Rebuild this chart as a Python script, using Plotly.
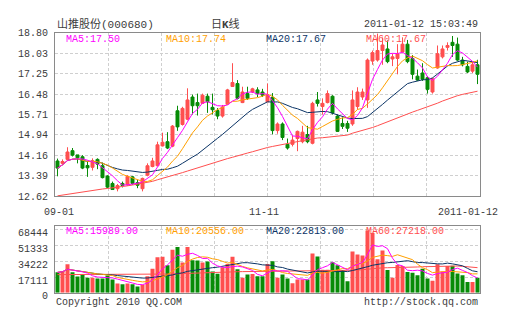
import pandas as pd
import plotly.graph_objects as go

# ---- daily quotes, 2010-09-01 .. 2011-01-12 (85 sessions) ----
open_ = [
    13.95, 13.86, 14.01, 14.34, 14.18, 14.11, 13.78, 13.71, 14.01, 13.77,
    13.38, 13.10, 12.90, 13.10, 13.05, 13.35, 13.13, 12.90, 13.41, 13.74,
    13.77, 14.52, 14.68, 14.51, 15.85, 15.33, 15.53, 16.37, 16.16, 16.13,
    16.40, 15.98, 15.86, 15.65, 16.10, 16.77, 16.88, 16.16, 16.50, 16.56,
    16.64, 16.56, 16.19, 16.36, 15.10, 15.35, 14.58, 14.58, 14.80, 14.68,
    14.95, 14.62, 16.26, 16.01, 16.16, 16.40, 15.65, 15.37, 15.37, 15.35,
    16.01, 16.37, 16.26, 17.73, 17.77, 18.13, 18.19, 17.81, 17.83, 18.07,
    18.37, 17.83, 17.16, 17.28, 17.10, 16.56, 17.47, 17.89, 18.25, 18.44,
    18.37, 17.77, 17.53, 17.35, 17.59]
high = [
    14.04, 14.01, 14.47, 14.44, 14.18, 14.17, 13.96, 14.05, 14.05, 13.89,
    13.41, 13.17, 13.08, 13.17, 13.41, 13.38, 13.23, 13.32, 13.86, 14.07,
    14.68, 15.02, 15.04, 15.31, 16.04, 16.00, 16.70, 16.46, 16.50, 16.50,
    16.50, 16.50, 15.95, 16.07, 16.68, 17.65, 17.01, 16.76, 16.76, 16.72,
    16.74, 16.68, 16.88, 16.52, 15.41, 15.41, 14.80, 14.92, 15.10, 15.28,
    15.28, 16.19, 16.56, 16.32, 16.62, 16.44, 15.71, 15.60, 15.47, 16.62,
    16.74, 16.69, 17.83, 18.13, 18.77, 18.62, 18.51, 18.01, 18.37, 18.63,
    18.53, 17.96, 17.41, 17.65, 17.16, 17.10, 18.32, 18.32, 18.44, 18.68,
    18.62, 17.89, 17.71, 17.71, 17.78]
low = [
    13.37, 13.82, 13.99, 14.12, 13.86, 13.64, 13.35, 13.59, 13.64, 13.29,
    12.92, 12.86, 12.80, 12.95, 13.01, 13.05, 12.92, 12.80, 13.37, 13.71,
    13.75, 14.50, 14.40, 14.47, 15.09, 15.29, 15.49, 15.71, 15.67, 16.11,
    15.77, 15.71, 15.53, 15.59, 16.07, 16.76, 16.28, 16.14, 16.26, 16.52,
    16.37, 16.37, 16.17, 14.96, 14.98, 14.74, 14.38, 14.50, 14.32, 14.62,
    14.62, 14.58, 16.01, 15.71, 16.13, 15.71, 15.05, 15.16, 15.05, 15.28,
    15.89, 16.26, 15.96, 17.59, 17.71, 17.59, 17.65, 17.54, 17.23, 18.05,
    17.65, 17.04, 16.98, 16.98, 16.50, 16.50, 17.44, 17.83, 18.13, 17.89,
    17.74, 17.53, 17.28, 17.28, 16.86]
close = [
    13.68, 13.93, 14.29, 14.17, 14.07, 13.68, 13.69, 13.96, 13.83, 13.32,
    12.96, 12.87, 13.02, 13.02, 13.37, 13.10, 13.03, 13.29, 13.77, 13.95,
    14.56, 14.66, 14.44, 15.27, 15.24, 15.94, 16.26, 16.04, 16.04, 16.44,
    16.19, 15.89, 15.65, 15.99, 16.64, 16.92, 16.32, 16.56, 16.32, 16.68,
    16.50, 16.44, 16.44, 15.10, 15.35, 14.84, 14.44, 14.74, 15.07, 15.04,
    14.68, 16.13, 16.13, 16.13, 16.50, 15.77, 15.07, 15.26, 15.19, 16.26,
    16.56, 16.56, 17.77, 18.05, 18.13, 18.34, 17.71, 17.89, 18.01, 18.37,
    17.71, 17.23, 17.01, 17.04, 16.66, 17.06, 18.01, 18.19, 18.32, 18.32,
    17.77, 17.59, 17.32, 17.59, 17.23]
volume = [
    22140, 23530, 30790, 22140, 17650, 19720, 16260, 16260, 15570, 15570,
    18680, 14530, 10030, 9340, 10030, 9340, 6920, 8650, 17990, 25950,
    38410, 39100, 29760, 46710, 49480, 32870, 49480, 35290, 34950, 32870,
    33910, 23180, 20760, 27680, 31140, 39100, 25600, 16260, 19720, 20410,
    17990, 17990, 31140, 34250, 16260, 19720, 15570, 10380, 14530, 14530,
    14530, 42520, 39410, 24910, 24910, 33040, 29760, 24570, 12460, 44630,
    41520, 40480, 67470, 64700, 36330, 45670, 24570, 16260, 30100, 29060,
    22490, 21800, 19030, 26150, 15570, 13150, 31000, 23180, 29000, 29285,
    21000, 18900, 11800, 11800, 16445]

# 60-day averages before a full 60-session window is available (earlier history)
price_ma60_head = [
    12.63, 12.66, 12.69, 12.72, 12.75, 12.79, 12.82, 12.85, 12.87, 12.89,
    12.91, 12.93, 12.96, 12.98, 13.01, 13.04, 13.07, 13.11, 13.14, 13.18,
    13.24, 13.29, 13.35, 13.40, 13.46, 13.51, 13.57, 13.63, 13.70, 13.75,
    13.81, 13.87, 13.93, 13.98, 14.04, 14.09, 14.15, 14.20, 14.25, 14.30,
    14.36, 14.41, 14.46, 14.50, 14.54, 14.57, 14.61, 14.65, 14.68, 14.72,
    14.75, 14.79, 14.82, 14.83, 14.85, 14.87, 14.89, 14.91, 14.93]
volume_ma60_head = [
    19700, 19700, 19700, 19750, 19750, 19750, 19800, 19800, 19800, 19850,
    19850, 19850, 19800, 19750, 19700, 19650, 19600, 19600, 19600, 19650,
    19800, 19950, 20100, 20350, 20650, 20900, 21150, 21400, 21600, 21800,
    22000, 22150, 22300, 22450, 22600, 22750, 22850, 22950, 23050, 23150,
    23250, 23300, 23400, 23450, 23550, 23600, 23650, 23700, 23750, 23800,
    23850, 23900, 24000, 24050, 24100, 24150, 24200, 24250, 24300]

price_ticks = [12.62, 13.39, 14.16, 14.94, 15.71, 16.48, 17.25, 18.03, 18.80]
volume_ticks = [0, 17111, 34222, 51333, 68444]
date_labels = ["09-01", "11-11", "2011-01-12"]
price_quote = {"MA5": "17.50", "MA10": "17.74", "MA20": "17.67", "MA60": "17.67"}
volume_quote = {"MA5": "15989.00", "MA10": "20556.00", "MA20": "22813.00", "MA60": "27218.00"}

# ---- derived series ----
n = len(close)
idx = list(range(n))
c = pd.Series(close)
v = pd.Series(volume, dtype=float)


def moving(s, w, head=None):
    m = s.rolling(w, min_periods=1 if head is None else w).mean()
    if head is not None:
        m.iloc[:len(head)] = head
    return m.tolist()


price_ma = {
    "MA5": moving(c, 5), "MA10": moving(c, 10), "MA20": moving(c, 20),
    "MA60": moving(c, 60, price_ma60_head),
}
volume_ma = {
    "MA5": moving(v, 5), "MA10": moving(v, 10), "MA20": moving(v, 20),
    "MA60": moving(v, 60, volume_ma60_head),
}

# ---- styling ----
W, H = 505, 330
RED = "#ff4f4f"
GREEN = "#078c07"
MA_COLORS = {"MA5": "#ff00ff", "MA10": "#ffa000", "MA20": "#0b3466", "MA60": "#ff4f4f"}
GRID = "#cfcfcf"
FRAME = "#8a8a8a"
TXT = "#3c3c3c"
MONO = "Liberation Mono, DejaVu Sans Mono, monospace"
CJK = "Liberation Mono, Noto Sans CJK SC, sans-serif"

PLOT_L, PLOT_R = 55, 480
PRICE_T, PRICE_B = 30, 200
VOL_T, VOL_B = 231, 300.7


def fx(px):
    return px / W


def fy(px):
    return 1 - px / H


bar_colors = [RED if cl >= op else GREEN for op, cl in zip(open_, close)]
grid_x = [-0.5 + 85 / 8 * k for k in range(1, 8)]

fig = go.Figure()
fig.add_trace(go.Candlestick(
    x=idx, open=open_, high=high, low=low, close=close,
    increasing=dict(line=dict(color=RED, width=1), fillcolor=RED),
    decreasing=dict(line=dict(color=GREEN, width=1), fillcolor=GREEN),
    whiskerwidth=0, xaxis="x", yaxis="y", hoverinfo="skip", showlegend=False,
))
for name in ["MA60", "MA20", "MA10", "MA5"]:
    fig.add_trace(go.Scatter(
        x=idx, y=price_ma[name], mode="lines",
        line=dict(color=MA_COLORS[name], width=1),
        xaxis="x", yaxis="y", hoverinfo="skip", showlegend=False,
    ))

fig.add_trace(go.Bar(
    x=idx, y=volume, width=0.8, marker=dict(color=bar_colors, line=dict(width=0)),
    xaxis="x2", yaxis="y2", hoverinfo="skip", showlegend=False,
))
for name in ["MA60", "MA20", "MA10", "MA5"]:
    fig.add_trace(go.Scatter(
        x=idx, y=volume_ma[name], mode="lines",
        line=dict(color=MA_COLORS[name], width=1),
        xaxis="x2", yaxis="y2", hoverinfo="skip", showlegend=False,
    ))

xaxis_common = dict(
    domain=[fx(PLOT_L), fx(PLOT_R)], range=[-0.5, n - 0.5],
    tickvals=grid_x, showticklabels=False, ticks="",
    showgrid=True, gridcolor=GRID, gridwidth=1, griddash="3px,2px",
    zeroline=False, showline=True, mirror=True, linecolor=FRAME, linewidth=1,
    fixedrange=True,
)
yaxis_common = dict(
    showgrid=True, gridcolor=GRID, gridwidth=1, griddash="3px,2px",
    zeroline=False, showline=True, mirror=True, linecolor=FRAME, linewidth=1,
    ticks="", ticklabelstandoff=4, tickfont=dict(family=MONO, size=10, color=TXT),
    fixedrange=True,
)

fig.update_layout(
    width=W, height=H, margin=dict(l=0, r=0, t=0, b=0),
    paper_bgcolor="white", plot_bgcolor="white", showlegend=False,
    boxgap=0.15,
    xaxis=dict(anchor="y", rangeslider=dict(visible=False), **xaxis_common),
    xaxis2=dict(anchor="y2", **xaxis_common),
    yaxis=dict(
        anchor="x", domain=[fy(PRICE_B), fy(PRICE_T)],
        range=[price_ticks[0], price_ticks[-1]],
        tickvals=price_ticks, ticktext=[f"{t:.2f}" for t in price_ticks],
        **yaxis_common,
    ),
    yaxis2=dict(
        anchor="x2", domain=[fy(VOL_B), fy(VOL_T)], range=[0, 72350],
        tickvals=volume_ticks, ticktext=[str(t) for t in volume_ticks],
        ticklabelshift=3,
        **yaxis_common,
    ),
)


def text(s, x, y, color=TXT, size=10, family=MONO, anchor="left"):
    fig.add_annotation(
        text=s, x=fx(x), y=fy(y), xref="paper", yref="paper",
        xanchor=anchor, yanchor="middle", showarrow=False,
        font=dict(family=family, size=size, color=color),
    )


# header
text("山推股份(000680)", 55, 21, size=11, family=CJK)
text("日<b>K</b>线", 225, 21, size=11, family=CJK, anchor="center")
text("2011-01-12 15:03:49", 480, 21, anchor="right")

# moving-average quotes
for i, name in enumerate(["MA5", "MA10", "MA20", "MA60"]):
    text(f"{name}:{price_quote[name]}", 64 + 100 * i, 37, color=MA_COLORS[name])
    text(f"{name}:{volume_quote[name]}", 64 + 100 * i, 237, color=MA_COLORS[name])

# date axis labels
text(date_labels[0], 59, 217, anchor="center")
text(date_labels[1], 264, 217, anchor="center")
text(date_labels[2], 500, 217, anchor="right")

# footer
text("Copyright 2010 QQ.COM", 54, 311)
text("http://stock.qq.com", 480, 311, anchor="right")

fig.write_html("out.html")
